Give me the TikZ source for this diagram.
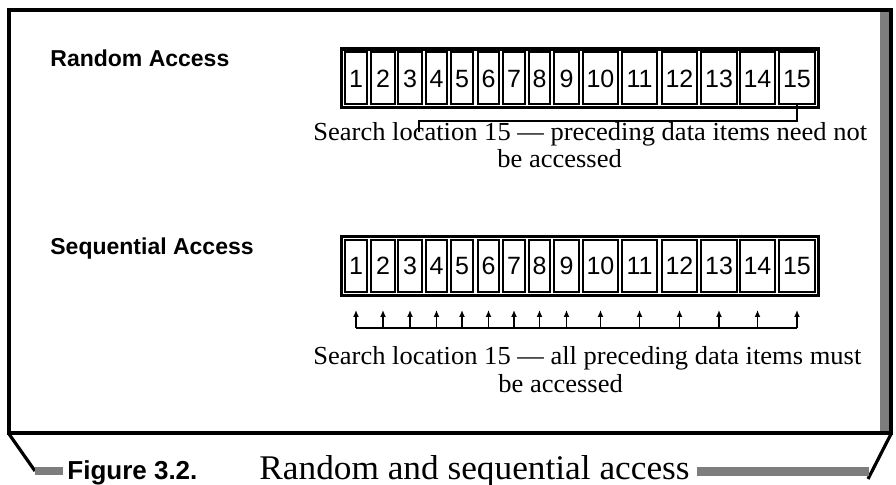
\documentclass[tikz,border=0pt]{standalone}
\usepackage{fontspec}
\setmainfont{Liberation Serif}[FakeStretch=1.02]
\setsansfont{Liberation Sans}
\usepackage{tikz}
\usetikzlibrary{arrows.meta,positioning,fit}
\definecolor{trame}{RGB}{125,125,125}

\begin{document}
\begin{tikzpicture}[x=0.5pt, y=-0.5pt,
  cellbox/.style={draw, line width=1pt, inner sep=0pt, minimum height=26pt,
                  text height=9pt, text depth=0pt,
                  font=\sffamily\fontsize{12.5}{12.5}\selectfont},
  rowbox/.style={draw, line width=1.6pt, inner sep=1.2pt},
  titre/.style={font=\sffamily\bfseries\fontsize{11.5}{12}\selectfont, anchor=base west, inner sep=0pt},
  legende/.style={font=\fontsize{13}{13.5}\selectfont, anchor=base west, inner sep=0pt},
  lien/.style={line width=0.8pt},
  fleche/.style={line width=0.8pt, -{Latex[length=3.5pt,width=3pt]}}]

\useasboundingbox (0,0) rectangle (896,485);

% cadre
\fill[trame] (880,12) rectangle (890,432);
\draw[line width=2pt] (891,433) -- (891,10) -- (9,10) -- (9,433) -- cycle;
\draw[line width=1.6pt] (9,434) -- (35,471);
\draw[line width=1.6pt] (891,434) -- (868,479);
\fill[trame] (35,467) rectangle (63,475);
\fill[trame] (697,467) rectangle (869,476);

% cases
\foreach \n/\l/\r in {1/345/367,2/371/395,3/398/422,4/426/447,5/451/473,
                      6/478/499,7/503/525,8/529/550,9/554/579,10/583/618,
                      11/622/657,12/662/697,13/701/737,14/740/775,15/779/815}{
  \pgfmathsetmacro\w{(\r-\l)*0.5}
  \node[cellbox, minimum width=\w pt] (r\n) at ({(\l+\r)/2},78.5) {\n};
  \node[cellbox, minimum width=\w pt] (s\n) at ({(\l+\r)/2},266) {\n};
}
\node[rowbox, fit=(r1)(r15)] (rrow) {};
\node[rowbox, fit=(s1)(s15)] (srow) {};

\node[titre] (rtitre) at (50,67) {Random Access};
\node[titre] (stitre) at (50,255) {Sequential Access};

\node[legende] (rtxt) at (313,141) {Search location 15 --- preceding data items need not};
\node[legende] (rtxt2) at (497,168) {be accessed};
\node[legende] (stxt) at (313,365) {Search location 15 --- all preceding data items must};
\node[legende] (stxt2) at (498,393) {be accessed};

% acces direct
\coordinate (rcoude) at (419,121);
\coordinate (rbout) at (419,132);
\draw[lien] (r15.south) |- (rcoude) -- (rbout);

% acces sequentiel
\coordinate (sligne) at (0,328);
\coordinate (spointe) at (0,310);
\draw[lien] (s1 |- sligne) -- (s15 |- sligne);
\foreach \n in {1,...,15}
  \draw[fleche] (s\n |- sligne) -- (s\n |- spointe);

\node[font=\sffamily\bfseries\fontsize{13}{13}\selectfont, anchor=base west, inner sep=0pt] (fig) at (67,480) {Figure 3.2.};
\node[font=\fontsize{17.3}{17.3}\selectfont, anchor=base west, inner sep=0pt] (cap) at (259,480) {Random and sequential access};

\end{tikzpicture}
\end{document}
